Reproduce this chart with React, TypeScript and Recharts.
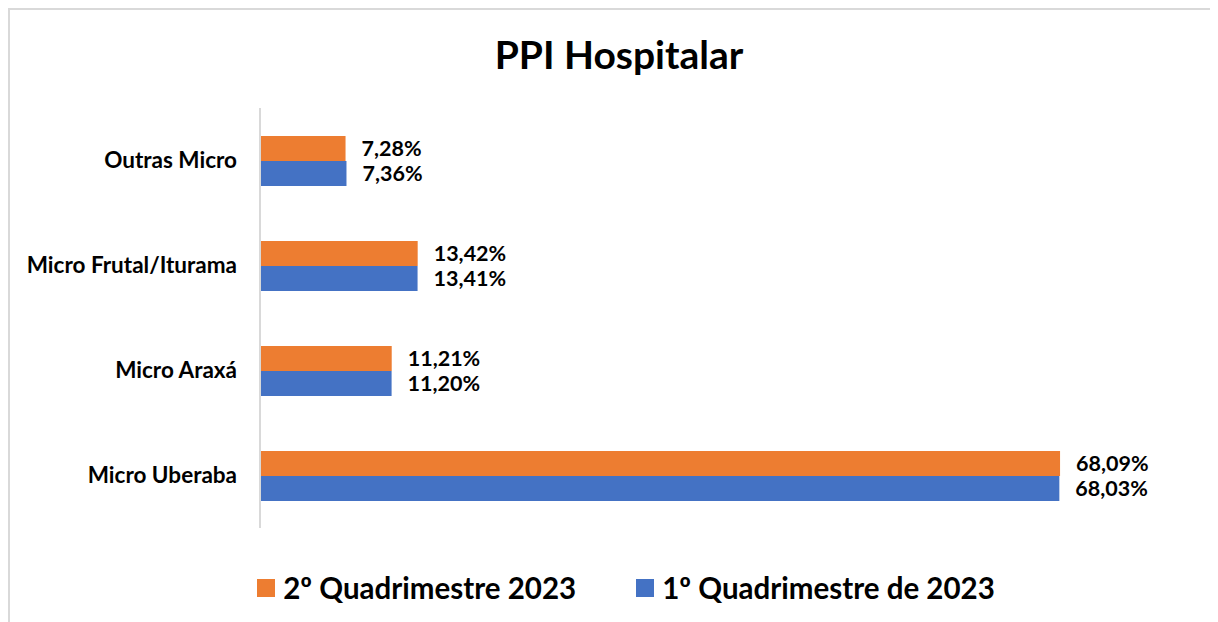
import React from "react";
import { BarChart, Bar, XAxis, YAxis, LabelList } from "recharts";

const categories = ["Outras Micro", "Micro Frutal/Iturama", "Micro Araxá", "Micro Uberaba"];
const q2Values = [7.28, 13.42, 11.21, 68.09];
const q1Values = [7.36, 13.41, 11.2, 68.03];

const seriesNames = ["2º Quadrimestre 2023", "1º Quadrimestre de 2023"];
const ORANGE = "#ED7D31";
const BLUE = "#4472C4";
const FONT = "Lato, 'Open Sans', sans-serif";

const data = categories.map((name, i) => ({ name, q2: q2Values[i], q1: q1Values[i] }));

function pct(v: unknown) {
  return Number(v).toFixed(2).replace(".", ",") + "%";
}

const labelStyle = { fill: "#000", fontSize: 21.5, fontWeight: 700, fontFamily: FONT };

function LegendBox() {
  const items = [
    { label: seriesNames[0], color: ORANGE },
    { label: seriesNames[1], color: BLUE },
  ];
  return (
    <div
      style={{
        position: "absolute",
        top: 560,
        left: 0,
        width: "100%",
        display: "flex",
        justifyContent: "center",
        gap: 60,
        paddingLeft: 26,
        boxSizing: "border-box",
      }}
    >
      {items.map((it) => (
        <div key={it.label} style={{ display: "flex", alignItems: "center" }}>
          <span style={{ width: 18, height: 18, background: it.color, marginRight: 8 }} />
          <span style={{ fontFamily: FONT, fontWeight: 700, fontSize: 29.5, color: "#000" }}>
            {it.label}
          </span>
        </div>
      ))}
    </div>
  );
}

export default function App() {
  return (
    <div
      style={{
        position: "relative",
        width: 1206,
        height: 612,
        border: "2px solid #d9d9d9",
        background: "#fff",
      }}
    >
      <div
        style={{
          position: "absolute",
          top: 21,
          left: 6,
          width: "100%",
          textAlign: "center",
          fontFamily: FONT,
          fontWeight: 700,
          fontSize: 39,
          color: "#000",
        }}
      >
        PPI Hospitalar
      </div>
      <BarChart
        width={1206}
        height={612}
        data={data}
        layout="vertical"
        margin={{ top: 98, right: 16, bottom: 94, left: 0 }}
        barCategoryGap={28}
        barGap={0}
      >
        <XAxis type="number" domain={[0, 80]} hide />
        <YAxis
          type="category"
          dataKey="name"
          width={250}
          axisLine={{ stroke: "#d9d9d9", strokeWidth: 2 }}
          tickLine={false}
          tickSize={0}
          tickMargin={23}
          tick={{ fill: "#000", fontSize: 22.5, fontWeight: 700, fontFamily: FONT }}
        />
        <Bar dataKey="q2" name={seriesNames[0]} fill={ORANGE} isAnimationActive={false}>
          <LabelList dataKey="q2" position="right" offset={16} formatter={pct} style={labelStyle} />
        </Bar>
        <Bar dataKey="q1" name={seriesNames[1]} fill={BLUE} isAnimationActive={false}>
          <LabelList dataKey="q1" position="right" offset={16} formatter={pct} style={labelStyle} />
        </Bar>
      </BarChart>
      <LegendBox />
    </div>
  );
}
